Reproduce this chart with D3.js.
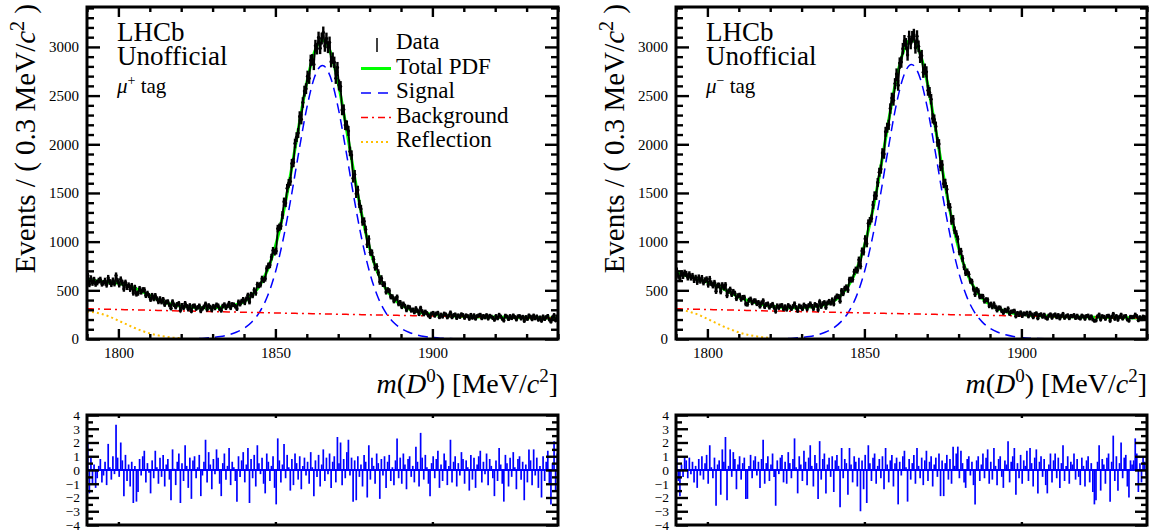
<!DOCTYPE html>
<html>
<head>
<meta charset="utf-8">
<script src="https://cdn.jsdelivr.net/npm/d3@7"></script>
<style>
  body { margin: 0; background: #fff; }
  svg { display: block; font-family: "Liberation Serif", "Times New Roman", serif; }
</style>
</head>
<body>
<svg id="chart" width="1154" height="532"></svg>
<script>
// mass range and binning (0.5 MeV bins, curves sampled every 2.5 MeV)
const massMin = 1790, massMax = 1940, binWidth = 0.5, curveStep = 2.5;
const massTicks = [1800, 1850, 1900];
const countTicks = [0, 500, 1000, 1500, 2000, 2500, 3000];
const pullTicks = [-4, -3, -2, -1, 0, 1, 2, 3, 4];
const tagSigns = ["+", "\u2212"];
const legendItems = ["Data", "Total PDF", "Signal", "Background", "Reflection"];

// mu+ tag
const dataPlus = [
  653,561,624,575,609,565,580,600,610,567, 577,600,557,628,586,562,602,569,653,595,
  558,613,579,513,580,531,553,511,547,472, 528,462,471,517,483,505,505,447,469,445,
  406,447,413,446,413,382,414,380,406,354, 380,383,350,317,383,352,327,356,365,295,
  346,320,366,336,305,344,288,338,342,312, 325,341,287,313,331,360,304,344,329,297,
  337,318,351,342,309,293,339,353,320,340, 367,320,355,351,336,311,381,358,388,406,
  372,411,449,380,458,445,503,472,559,550, 558,620,604,619,724,752,760,841,910,892,
  903,1134,1147,1161,1273,1410,1397,1549,1599,1618, 1802,1813,2009,2073,2115,2286,2257,2429,2546,2571,
  2699,2677,2862,2868,2820,3013,2982,3096,2986,3086, 3148,3010,3086,2996,3046,2848,2885,2842,2677,2788,
  2609,2593,2352,2356,2198,2193,2137,1927,1889,1652, 1690,1492,1530,1386,1336,1203,1210,1125,971,1028,
  890,885,819,734,746,684,587,625,563,564, 484,505,495,433,434,391,413,431,360,376,
  330,361,338,297,329,324,293,301,275,314, 290,257,318,284,254,280,264,242,225,261,
  267,240,261,268,224,250,230,260,251,222, 242,271,223,245,251,216,242,227,253,245,
  217,242,234,208,247,219,243,209,234,242, 248,213,236,222,244,210,238,230,216,197,
  235,212,248,230,208,189,239,230,204,235, 214,241,224,200,232,235,210,228,186,225,
  206,241,229,202,240,212,231,198,221,187, 231,204,224,236,200,178,222,245,192,232
];
const pullPlus = [
  2.0,-1.7,0.9,-1.0,0.4,-1.3,-0.6,0.3,0.8,-0.9, -0.4,0.6,-1.1,1.9,0.2,-0.7,1.0,-0.3,3.3,0.9,
  -0.5,2.0,0.7,-1.9,1.1,-0.8,0.4,-1.2,0.6,-2.4, 0.3,-2.3,-1.6,0.8,-0.4,1.0,1.4,-0.9,0.5,-0.2,
  -1.7,0.7,-0.6,1.4,0.2,-1.0,0.9,-0.5,1.1,-1.2, 0.4,0.8,-0.7,-2.2,1.5,0.1,-1.1,0.6,1.2,-2.4,
  0.5,-0.8,1.8,0.3,-1.3,0.9,-2.1,0.7,1.0,-0.6, 0.2,1.1,-1.9,-0.4,0.6,2.2,-0.9,1.3,0.4,-1.4,
  0.8,-0.3,1.5,0.9,-1.0,-1.9,0.5,1.2,-0.7,0.3, 1.6,-1.1,0.6,0.2,-0.8,-2.3,1.0,-0.5,0.7,1.3,
  -0.9,0.4,1.6,-2.4,0.8,-0.6,1.1,-1.2,1.8,0.5, -0.3,0.9,-1.0,-1.7,1.2,0.6,-0.8,0.3,1.0,-1.3,
  -2.5,2.3,0.7,-0.9,0.4,1.9,-0.6,1.1,0.2,-1.5, 0.8,-1.1,1.2,0.5,-0.7,1.0,-1.4,0.3,0.9,-0.4,
  0.6,-1.0,1.3,0.2,-1.9,0.7,-0.5,1.1,-1.2,0.4, 1.5,-0.8,0.9,-0.3,1.2,-1.3,0.6,1.0,-0.9,2.4,
  0.5,2.0,-1.1,0.8,-0.6,1.3,2.2,-0.4,0.9,-2.3, 0.7,-2.2,1.0,-0.5,0.4,-1.2,1.1,0.6,-2.0,1.8,
  -0.7,0.9,0.3,-1.0,1.2,0.5,-2.1,0.8,-0.4,1.0, -1.3,0.6,1.1,-0.8,0.2,-1.1,0.7,2.3,-0.6,0.9,
  -1.0,1.2,0.4,-1.4,0.8,1.0,-0.5,0.3,-0.9,1.7, 0.6,-1.2,2.7,0.9,-0.7,1.1,0.2,-1.0,-1.9,0.5,
  1.0,-0.6,0.8,1.4,-1.3,0.4,-0.8,1.2,0.7,-1.1, 0.3,2.2,-0.9,0.6,1.0,-1.2,0.5,-0.4,1.3,0.8,
  -1.0,0.7,0.2,-1.5,1.1,-0.7,0.9,-1.3,0.4,1.0, 1.4,-0.9,0.6,-0.3,1.2,-1.1,0.8,0.3,-0.6,-1.9,
  0.7,-0.8,1.6,0.4,-1.0,-2.3,1.1,0.5,-1.2,0.9, -0.5,1.3,0.2,-1.4,0.8,1.0,-0.7,0.6,-2.2,0.4,
  -0.9,1.5,0.7,-1.1,1.5,-0.4,0.9,-1.3,0.3,-2.0, 1.0,-0.8,0.6,1.4,-1.0,-2.5,0.5,2.1,-1.5,1.2
];
const totalPlus = [
  605,598,588,580,572,552,525,488,445,405,375,352,338,328,322,320,322,327,336,352,
  384,448,549,710,954,1293,1719,2193,2635,2952,3068,2949,2629,2183,1706,1277,934,688,523,419,
  352,310,282,264,252,244,238,235,232,230,227,226,225,223,222,220,219,218,216,215,214
];
const signalPlus = [
  0,0,0,0,0,0,0,0,0,0,0,1,2,3,5,9,16,26,43,69,
  110,175,278,441,686,1027,1455,1930,2374,2693,2810,2693,2374,1930,1455,1027,686,441,278,175,
  110,69,43,26,16,9,5,3,2,1,0,0,0,0,0,0,0,0,0,0,0
];
const backgroundPlus = [
  311,309,307,305,303,301,300,298,296,294,292,290,288,287,285,283,281,280,278,276,
  274,273,271,269,268,266,264,263,261,259,258,256,255,253,251,250,248,247,245,244,
  242,241,239,238,236,235,233,232,230,229,227,226,225,223,222,220,219,218,216,215,214
];
const reflectionPlus = [280,273,254,225,189,152,116,84,58,38,24,14,8];

// mu- tag
const dataMinus = [
  702,651,619,674,647,681,669,631,665,630, 648,605,630,585,633,598,627,580,604,614,
  557,618,573,548,578,490,551,551,486,555, 526,556,446,492,510,458,487,469,415,444,
  449,408,426,428,360,356,399,410,371,392, 393,362,376,336,371,393,331,355,361,325,
  344,357,324,284,342,322,342,345,308,333, 304,345,330,310,335,362,324,291,340,330,
  309,350,336,307,344,362,336,311,355,346, 301,382,333,364,375,324,371,387,367,402,
  360,420,441,437,388,496,467,519,533,502, 609,610,610,690,712,703,813,748,905,893,
  1029,978,1189,1213,1237,1376,1473,1472,1608,1713, 1745,1911,1900,2128,2170,2200,2367,2475,2451,2623,
  2722,2606,2834,2844,2982,3062,3031,2918,3106,3036, 3103,3125,2991,3110,3006,2894,2910,2740,2771,2744,
  2554,2533,2463,2266,2254,2182,2024,2003,1771,1790, 1594,1601,1538,1382,1354,1213,1233,1118,1079,1026,
  895,901,827,739,678,693,665,597,589,514, 459,508,494,434,439,437,388,404,402,340,
  360,328,361,329,295,322,320,288,269,298, 288,312,259,280,283,289,233,267,247,272,
  237,262,254,269,233,269,251,223,255,263, 213,247,253,229,249,219,209,241,252,219,
  243,251,223,245,211,238,257,217,233,243, 213,237,233,245,216,239,219,210,240,231,
  208,236,240,211,232,200,187,190,232,250, 200,234,228,207,235,239,187,229,257,208,
  235,198,227,249,210,232,235,200,188,228, 223,227,250,234,192,223,203,230,224,209
];
const pullMinus = [
  1.0,-0.8,-1.9,0.4,-0.5,1.0,0.7,-0.6,0.9,-0.3, 0.6,-0.9,0.3,-1.3,0.8,-0.4,1.0,-0.7,0.5,1.1,
  -1.0,1.8,0.2,-0.6,0.9,-2.6,0.4,0.7,-1.8,1.5, 0.6,2.4,-2.2,0.3,1.5,-0.5,1.3,0.8,-1.4,0.4,
  1.0,-0.7,0.5,0.9,-2.1,-2.1,0.3,1.1,-0.6,0.7, 1.0,-0.4,0.6,-1.3,0.8,2.2,-1.0,0.5,1.0,-0.8,
  0.4,1.2,-0.5,-2.6,0.7,-0.3,0.9,1.1,-0.9,0.6, -1.0,1.3,0.5,-0.6,0.8,2.3,0.2,-1.7,1.0,0.4,
  -0.8,1.4,0.6,-1.1,0.9,1.8,0.3,-1.2,1.1,0.5, -2.1,2.1,-0.7,0.8,1.2,-1.7,0.4,0.9,-0.5,1.0,
  -1.6,0.7,1.1,0.3,-2.7,1.6,-0.6,0.8,0.5,-1.8, 1.6,0.4,-0.9,1.0,0.6,-1.2,0.9,-3.0,0.7,-1.4,
  1.1,-2.4,1.8,0.5,-0.8,0.9,1.2,-1.0,0.3,0.8, -0.6,1.0,-1.4,1.6,0.4,-0.9,0.7,1.1,-1.2,0.5,
  0.9,-2.5,0.6,-0.4,1.0,1.4,0.2,-2.3,0.8,-0.7, 0.5,1.1,-1.0,1.6,0.3,-0.6,0.9,-1.1,0.7,1.4,
  -0.8,0.6,1.0,-1.2,0.4,0.9,-0.5,1.2,-1.9,0.7, -1.9,0.5,1.1,-0.7,0.8,-1.0,1.7,0.3,1.2,1.7,
  -0.6,1.4,0.5,-0.9,-1.3,0.8,1.0,-0.4,0.6,-1.1, -2.5,0.7,1.0,-0.8,0.4,1.2,-0.6,0.9,1.5,-1.0,
  0.6,-0.7,1.6,0.3,-1.1,0.8,1.0,-0.5,-1.3,0.7, 0.4,2.1,-0.9,0.6,1.0,1.6,-1.8,0.5,-0.6,1.1,
  -1.0,0.7,0.3,1.4,-0.8,1.6,0.5,-1.2,0.9,1.5, -1.7,0.6,1.0,-0.5,0.8,-1.1,-1.7,0.4,1.2,-0.9,
  0.7,1.2,-0.6,0.9,-1.3,0.5,1.8,-0.8,0.3,1.0, -1.0,0.6,0.4,1.2,-0.7,0.8,-0.5,-1.1,0.9,0.3,
  -1.2,0.7,1.0,-0.9,0.5,-1.6,-2.5,-2.2,0.6,1.8, -1.5,0.8,0.4,-1.0,0.9,1.2,-2.3,0.6,2.5,-0.8,
  1.0,-1.5,0.5,2.0,-0.6,0.9,1.1,-1.2,-2.0,0.7, 0.4,0.7,2.3,1.2,-1.6,0.5,-0.9,1.0,0.6,-0.4
];
const totalMinus = [
  678,658,635,610,584,553,517,472,432,400,376,354,338,328,322,320,323,328,338,354,
  386,450,552,713,958,1298,1724,2200,2643,2961,3078,2958,2638,2190,1711,1280,936,690,524,420,
  353,311,283,265,253,245,239,236,233,231,228,227,226,224,223,221,220,219,217,216,215
];
const signalMinus = [
  0,0,0,0,0,0,0,0,0,0,0,1,2,3,5,9,16,26,43,69,
  110,176,279,443,688,1031,1460,1937,2382,2702,2820,2702,2382,1937,1460,1031,688,443,279,176,
  110,69,43,26,16,9,5,3,2,1,0,0,0,0,0,0,0,0,0,0,0
];
const backgroundMinus = [
  311,309,307,305,303,301,300,298,296,294,292,290,288,287,285,283,281,280,278,276,
  274,273,271,269,268,266,264,263,261,259,258,256,255,253,251,250,248,247,245,244,
  242,241,239,238,236,235,233,232,230,229,227,226,225,223,222,220,219,218,216,215,214
];
const reflectionMinus = [300,293,273,244,207,168,130,97,68,46,30,18,11];

const binCenters = d3.range(dataPlus.length).map(i => massMin + binWidth * (i + 0.5));
const curveMass = d3.range(totalPlus.length).map(i => massMin + curveStep * i);

const svg = d3.select("#chart");
const plotWidth = 471, mainTop = 7, mainBottom = 339, pullTop = 415, pullBottom = 525;
const countMax = 3410;

const panels = [
  {left: 87, data: dataPlus, pull: pullPlus, total: totalPlus, signal: signalPlus,
   background: backgroundPlus, reflection: reflectionPlus, legend: true},
  {left: 676, data: dataMinus, pull: pullMinus, total: totalMinus, signal: signalMinus,
   background: backgroundMinus, reflection: reflectionMinus, legend: false}
];

function styleAxis(sel, size) {
  sel.attr("font-family", null).attr("font-size", size);
  sel.select(".domain").remove();
  sel.selectAll("line").attr("stroke", "#000").attr("stroke-width", 2.4);
  sel.selectAll("text").attr("fill", "#000");
}

function drawPanel(p, k) {
  const x = d3.scaleLinear().domain([massMin, massMax]).range([p.left, p.left + plotWidth]);
  const y = d3.scaleLinear().domain([0, countMax]).range([mainBottom, mainTop]);
  const yp = d3.scaleLinear().domain([-4, 4]).range([pullBottom, pullTop]);
  const g = svg.append("g");

  const defs = svg.append("defs");
  defs.append("clipPath").attr("id", "clipMain" + k).append("rect")
    .attr("x", p.left).attr("y", mainTop).attr("width", plotWidth).attr("height", mainBottom - mainTop);
  defs.append("clipPath").attr("id", "clipPull" + k).append("rect")
    .attr("x", p.left).attr("y", pullTop).attr("width", plotWidth).attr("height", pullBottom - pullTop);

  // ---- main frame contents
  const marks = g.append("g").attr("clip-path", `url(#clipMain${k})`);
  const curve = arr => d3.line()
    .x((d, i) => x(curveMass[i]))
    .y(d => y(d))
    .curve(d3.curveMonotoneX)(arr);

  marks.append("path").attr("d", curve(p.total))
    .attr("fill", "none").attr("stroke", "#00ff00").attr("stroke-width", 3);
  marks.append("path").attr("d", curve(p.signal))
    .attr("fill", "none").attr("stroke", "#0000ff").attr("stroke-width", 1.5)
    .attr("stroke-dasharray", "10,6");
  marks.append("path").attr("d", curve(p.background))
    .attr("fill", "none").attr("stroke", "#ff0000").attr("stroke-width", 1.5)
    .attr("stroke-dasharray", "7,4,2,4");
  marks.append("path").attr("d", curve(p.reflection))
    .attr("fill", "none").attr("stroke", "#ffbf00").attr("stroke-width", 2)
    .attr("stroke-dasharray", "2,3");

  const bins = p.data.map((v, i) => ({m: binCenters[i], v}));
  marks.append("path")
    .attr("d", d3.line().x(d => x(d.m)).y(d => y(d.v))(bins))
    .attr("fill", "none").attr("stroke", "#000").attr("stroke-width", 1.8);
  marks.append("g").selectAll("line").data(bins).join("line")
    .attr("x1", d => x(d.m)).attr("x2", d => x(d.m))
    .attr("y1", d => y(d.v - Math.sqrt(d.v)) + 0.5).attr("y2", d => y(d.v + Math.sqrt(d.v)) - 0.5)
    .attr("stroke", "#000").attr("stroke-width", 2.4);
  marks.append("g").selectAll("circle").data(bins).join("circle")
    .attr("cx", d => x(d.m)).attr("cy", d => y(d.v)).attr("r", 1.7).attr("fill", "#000");

  // ---- main axes
  const minorMass = d3.range(massMin, massMax + 1, 10).filter(v => !massTicks.includes(v));
  const minorCount = d3.range(0, countMax, 100).filter(v => v % 500 !== 0);

  g.append("g").attr("transform", `translate(0,${mainBottom})`)
    .call(d3.axisBottom(x).tickValues(massTicks).tickSize(-10).tickPadding(8).tickFormat(d3.format("d")))
    .call(styleAxis, 15);
  g.append("g").attr("transform", `translate(0,${mainBottom})`)
    .call(d3.axisBottom(x).tickValues(minorMass).tickSize(-5).tickFormat(""))
    .call(styleAxis, 15);
  g.append("g").attr("transform", `translate(0,${mainTop})`)
    .call(d3.axisTop(x).tickValues(massTicks).tickSize(-10).tickFormat(""))
    .call(styleAxis, 15);
  g.append("g").attr("transform", `translate(0,${mainTop})`)
    .call(d3.axisTop(x).tickValues(minorMass).tickSize(-5).tickFormat(""))
    .call(styleAxis, 15);
  g.append("g").attr("transform", `translate(${p.left},0)`)
    .call(d3.axisLeft(y).tickValues(countTicks).tickSize(-13).tickPadding(8).tickFormat(d3.format("d")))
    .call(styleAxis, 15);
  g.append("g").attr("transform", `translate(${p.left},0)`)
    .call(d3.axisLeft(y).tickValues(minorCount).tickSize(-7).tickFormat(""))
    .call(styleAxis, 15);
  g.append("g").attr("transform", `translate(${p.left + plotWidth},0)`)
    .call(d3.axisRight(y).tickValues(countTicks).tickSize(-13).tickFormat(""))
    .call(styleAxis, 15);
  g.append("g").attr("transform", `translate(${p.left + plotWidth},0)`)
    .call(d3.axisRight(y).tickValues(minorCount).tickSize(-7).tickFormat(""))
    .call(styleAxis, 15);

  g.append("rect").attr("x", p.left).attr("y", mainTop)
    .attr("width", plotWidth).attr("height", mainBottom - mainTop)
    .attr("fill", "none").attr("stroke", "#000").attr("stroke-width", 3);

  // axis titles
  const xt = g.append("text").attr("x", p.left + plotWidth).attr("y", 393)
    .attr("text-anchor", "end").attr("font-size", 28);
  xt.append("tspan").attr("font-style", "italic").text("m");
  xt.append("tspan").text("(");
  xt.append("tspan").attr("font-style", "italic").text("D");
  xt.append("tspan").attr("font-size", 19).attr("dy", -11).text("0");
  xt.append("tspan").attr("dy", 11).text(") [MeV/");
  xt.append("tspan").attr("font-style", "italic").text("c");
  xt.append("tspan").attr("font-size", 19).attr("dy", -11).text("2");
  xt.append("tspan").attr("dy", 11).text("]");

  const yt = g.append("text")
    .attr("transform", `translate(${p.left - 52},4) rotate(-90)`)
    .attr("text-anchor", "end").attr("font-size", 29);
  yt.append("tspan").text("Events / ( 0.3 MeV/");
  yt.append("tspan").attr("font-style", "italic").text("c");
  yt.append("tspan").attr("font-size", 20).attr("dy", -11).text("2");
  yt.append("tspan").attr("dy", 11).text(" )");

  // LHCb labels
  g.append("text").attr("x", p.left + 30).attr("y", 41).attr("font-size", 27).text("LHCb");
  g.append("text").attr("x", p.left + 30).attr("y", 65).attr("font-size", 27).text("Unofficial");
  const tag = g.append("text").attr("x", p.left + 30).attr("y", 93).attr("font-size", 21);
  tag.append("tspan").attr("font-style", "italic").text("\u03bc");
  tag.append("tspan").attr("font-size", 14).attr("dy", -8).text(tagSigns[k]);
  tag.append("tspan").attr("dy", 8).text(" tag");

  // legend
  if (p.legend) {
    const lx = p.left + 274, tx = p.left + 309;
    const rows = [49, 73.5, 98, 122.5, 147];
    const lg = g.append("g").attr("font-size", 23);
    legendItems.forEach((name, i) => {
      lg.append("text").attr("x", tx).attr("y", rows[i]).text(name);
    });
    lg.append("line").attr("x1", lx + 16).attr("x2", lx + 16)
      .attr("y1", rows[0] - 11).attr("y2", rows[0] + 3).attr("stroke", "#000").attr("stroke-width", 1.5);
    const styles = [
      {c: "#00ff00", w: 3, d: null},
      {c: "#0000ff", w: 1.5, d: "10,7"},
      {c: "#ff0000", w: 1.5, d: "7,4,2,4"},
      {c: "#ffbf00", w: 2, d: "2,3"}
    ];
    styles.forEach((s, i) => {
      lg.append("line").attr("x1", lx).attr("x2", lx + 30)
        .attr("y1", rows[i + 1] - 5).attr("y2", rows[i + 1] - 5)
        .attr("stroke", s.c).attr("stroke-width", s.w).attr("stroke-dasharray", s.d);
    });
  }

  // ---- pull frame
  const pulls = g.append("g").attr("clip-path", `url(#clipPull${k})`);
  pulls.append("line").attr("x1", p.left).attr("x2", p.left + plotWidth)
    .attr("y1", yp(0)).attr("y2", yp(0)).attr("stroke", "#0000ff").attr("stroke-width", 1.8);
  pulls.selectAll("line.bar").data(p.pull).join("line").attr("class", "bar")
    .attr("x1", (d, i) => x(binCenters[i])).attr("x2", (d, i) => x(binCenters[i]))
    .attr("y1", yp(0)).attr("y2", d => yp(d))
    .attr("stroke", "#0000ff").attr("stroke-width", 1.7);

  const minorPull = d3.range(-3.5, 4, 1);
  g.append("g").attr("transform", `translate(${p.left},0)`)
    .call(d3.axisLeft(yp).tickValues(pullTicks).tickSize(-12).tickPadding(7).tickFormat(d3.format("d")))
    .call(styleAxis, 13.5);
  g.append("g").attr("transform", `translate(${p.left},0)`)
    .call(d3.axisLeft(yp).tickValues(minorPull).tickSize(-6).tickFormat(""))
    .call(styleAxis, 13.5);
  g.append("g").attr("transform", `translate(${p.left + plotWidth},0)`)
    .call(d3.axisRight(yp).tickValues(pullTicks).tickSize(-12).tickFormat(""))
    .call(styleAxis, 13.5);
  g.append("g").attr("transform", `translate(${p.left + plotWidth},0)`)
    .call(d3.axisRight(yp).tickValues(minorPull).tickSize(-6).tickFormat(""))
    .call(styleAxis, 13.5);
  g.append("g").attr("transform", `translate(0,${pullBottom})`)
    .call(d3.axisBottom(x).tickValues(massTicks).tickSize(-3).tickFormat(""))
    .call(styleAxis, 13.5);
  g.append("g").attr("transform", `translate(0,${pullTop})`)
    .call(d3.axisTop(x).tickValues(massTicks).tickSize(-3).tickFormat(""))
    .call(styleAxis, 13.5);

  g.append("rect").attr("x", p.left).attr("y", pullTop)
    .attr("width", plotWidth).attr("height", pullBottom - pullTop)
    .attr("fill", "none").attr("stroke", "#000").attr("stroke-width", 3);
}

panels.forEach(drawPanel);
</script>
</body>
</html>
